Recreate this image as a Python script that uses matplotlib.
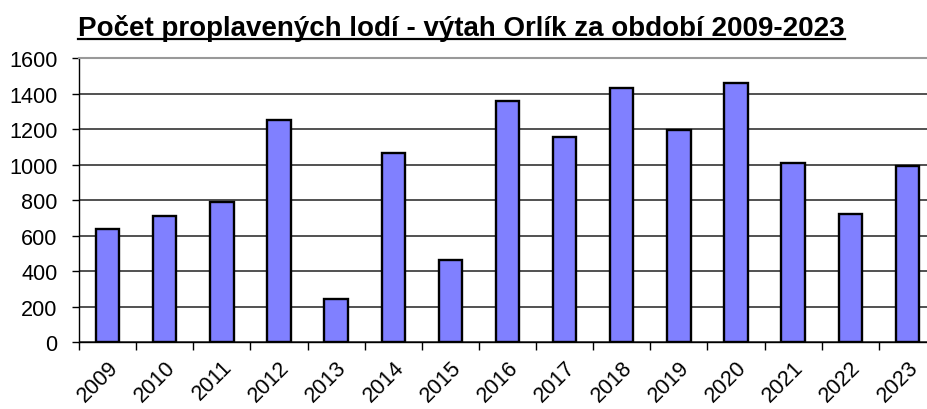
import matplotlib
matplotlib.use("Agg")
import matplotlib.pyplot as plt
from matplotlib.lines import Line2D

years = ["2009", "2010", "2011", "2012", "2013", "2014", "2015", "2016",
         "2017", "2018", "2019", "2020", "2021", "2022", "2023"]
ships = [638, 712, 788, 1249, 244, 1066, 465, 1356,
         1154, 1433, 1193, 1458, 1007, 720, 992]
yticks = [0, 200, 400, 600, 800, 1000, 1200, 1400, 1600]
title = "Počet proplavených lodí - výtah Orlík za období 2009-2023"

plt.rcParams['font.family'] = ['Liberation Sans', 'DejaVu Sans']

W, H = 928, 410
fig = plt.figure(figsize=(W / 100, H / 100), dpi=100)
left, right, top, bottom = 79, 936, 59, 343.3
ax = fig.add_axes([left / W, 1 - bottom / H, (right - left) / W, (bottom - top) / H])

x = list(range(len(years)))
ax.bar(x, ships, width=0.41, color='#8080FF', edgecolor='black', linewidth=1.7, zorder=3)

ax.set_xlim(-0.5, len(years) - 0.5)
ax.set_ylim(0, 1600)
ax.set_yticks(yticks)
ax.set_yticklabels([str(v) for v in yticks], fontsize=15.6)
ax.set_xticks([i - 0.5 for i in x])
ax.set_xticklabels([])
ax.set_xticks(x, minor=True)
ax.set_xticklabels(years, minor=True, rotation=45, ha='right', rotation_mode='anchor', fontsize=15.6)
ax.tick_params(axis='x', which='minor', length=0, pad=10)
ax.tick_params(axis='x', which='major', length=6, width=1, direction='out', color='black')
ax.tick_params(axis='y', length=5.3, width=1, direction='out', pad=10)

ax.set_axisbelow(True)
ax.yaxis.grid(True, color='#222222', linewidth=1.1)
for s in ['left', 'bottom']:
    ax.spines[s].set_color('black')
    ax.spines[s].set_linewidth(1.0)
ax.spines['top'].set_color('#999999')
ax.spines['top'].set_linewidth(1.5)
ax.spines['right'].set_visible(False)

t = fig.text(461.5 / W, 1 - 36 / H, title, ha='center', va='baseline',
             fontsize=20, fontweight='bold')
fig.canvas.draw()
bb = t.get_window_extent()
uy = (H - 40) / H
fig.add_artist(Line2D([bb.x0 / W, bb.x1 / W], [uy, uy], color='black', linewidth=1.6,
                      transform=fig.transFigure))

fig.savefig("out.png", dpi=100)
